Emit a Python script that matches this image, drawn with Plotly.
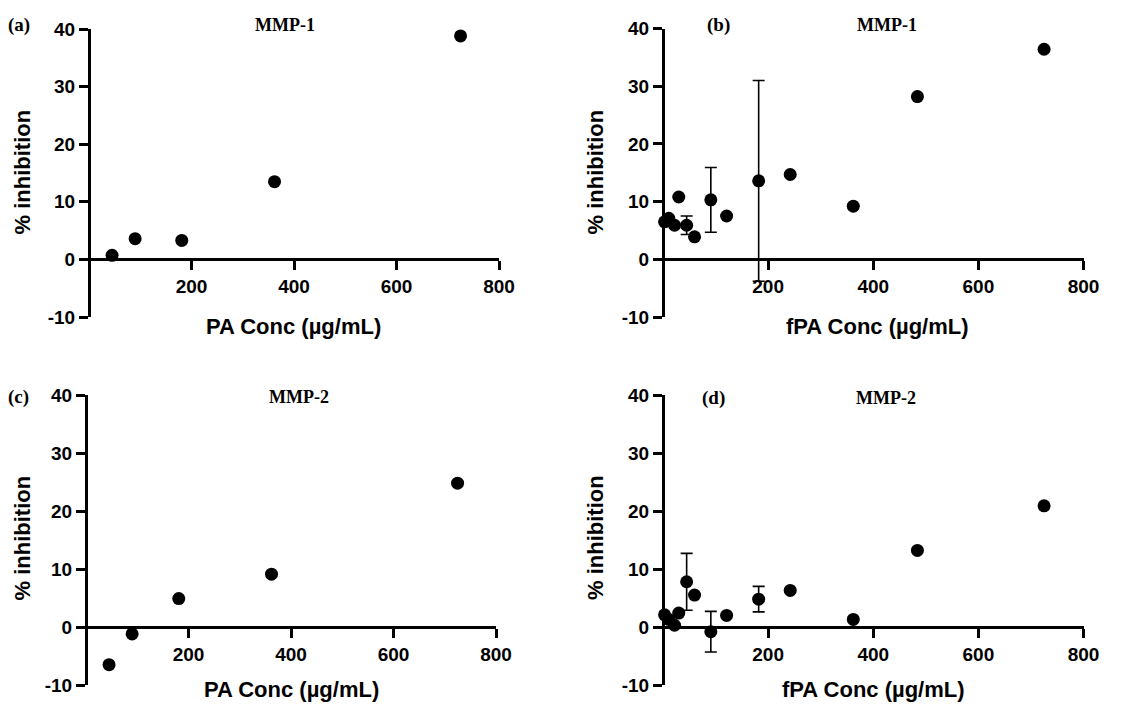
import plotly.graph_objects as go

# The page body has an 8px margin, so the figure is offset by 8px;
# reference pixel coordinates are converted accordingly.
OFF = 8
W, H = 1127 - OFF, 704 - OFF

# ---- data ----
pa_conc = [45, 90, 181, 362, 725]
mmp1_pa = [0.7, 3.6, 3.3, 13.5, 38.8]
mmp2_pa = [-6.5, -1.2, 4.9, 9.1, 24.8]

fpa_conc = [3, 11, 22, 30, 45, 60, 91, 121, 182, 242, 362, 484, 725]
mmp1_fpa = [6.5, 7.1, 5.9, 10.8, 5.9, 3.9, 10.3, 7.5, 13.6, 14.7, 9.2, 28.2, 36.4]
mmp1_fpa_err = [None, None, None, None, 1.6, None, 5.6, None, 17.4, None, None, None, None]
mmp2_fpa = [2.1, 1.3, 0.3, 2.4, 7.8, 5.5, -0.8, 2.0, 4.8, 6.3, 1.3, 13.2, 20.9]
mmp2_fpa_err = [None, None, None, None, 4.9, None, 3.5, None, 2.2, None, None, None, None]

x_ticks = [200, 400, 600, 800]
y_ticks = [-10, 0, 10, 20, 30, 40]

SANS = "Arial, Liberation Sans, sans-serif"
SERIF = "Times New Roman, Liberation Serif, serif"

def px(x):
    return (x - OFF) / W

def py(y):
    return 1 - (y - OFF) / H

panels = [
    # (x-left px, x-right px), (y-top px, y-bottom px) in reference pixels
    dict(xd=(89, 499), yd=(29, 317)),
    dict(xd=(663, 1083.5), yd=(28.5, 317)),
    dict(xd=(86, 496), yd=(395, 685)),
    dict(xd=(663, 1083.5), yd=(395, 685)),
]

fig = go.Figure()

series = [
    (pa_conc, mmp1_pa, None),
    (fpa_conc, mmp1_fpa, mmp1_fpa_err),
    (pa_conc, mmp2_pa, None),
    (fpa_conc, mmp2_fpa, mmp2_fpa_err),
]

for i, (xs, ys, err) in enumerate(series):
    n = "" if i == 0 else str(i + 1)
    tr = dict(
        x=xs, y=ys, mode="markers",
        marker=dict(color="black", size=13, symbol="circle", line=dict(width=0)),
        xaxis="x" + n, yaxis="y" + n, showlegend=False, cliponaxis=False,
    )
    if err is not None:
        tr["error_y"] = dict(type="data", array=err, visible=True,
                             color="black", thickness=1.6, width=6)
    fig.add_trace(go.Scatter(**tr))

layout = dict(
    width=W, height=H,
    margin=dict(l=0, r=0, t=0, b=0, pad=0, autoexpand=False),
    paper_bgcolor="white", plot_bgcolor="white",
    showlegend=False,
)

for i, p in enumerate(panels):
    n = "" if i == 0 else str(i + 1)
    xd = [px(p["xd"][0]), px(p["xd"][1])]
    yd = [py(p["yd"][1]), py(p["yd"][0])]
    zero_pos = yd[0] + (0 - (-10)) / 50 * (yd[1] - yd[0])
    layout["xaxis" + n] = dict(
        domain=xd, range=[0, 800], anchor="free", position=zero_pos,
        showline=True, linecolor="black", linewidth=3,
        ticks="outside", ticklen=9, tickwidth=3, tickcolor="black",
        tickvals=x_ticks, ticktext=[str(v) for v in x_ticks],
        tickfont=dict(family=SANS, size=19, color="black", weight="bold"),
        showgrid=False, zeroline=False, automargin=False,
    )
    layout["yaxis" + n] = dict(
        domain=yd, range=[-10, 40], anchor="free", position=xd[0],
        showline=True, linecolor="black", linewidth=3,
        ticks="outside", ticklen=9, tickwidth=3, tickcolor="black",
        tickvals=y_ticks, ticktext=[str(v) for v in y_ticks],
        tickfont=dict(family=SANS, size=19, color="black", weight="bold"),
        showgrid=False, zeroline=False, automargin=False,
    )

fig.update_layout(**layout)

# ---- text annotations (reference pixel positions) ----
texts = [
    # panel labels and titles (serif bold)
    ("(a)", 18.5, 25, SERIF, 19, 0),
    ("MMP-1", 284.5, 25, SERIF, 18, 0),
    ("(b)", 718.5, 25, SERIF, 19, 0),
    ("MMP-1", 887, 25, SERIF, 18, 0),
    ("(c)", 18, 397, SERIF, 19, 0),
    ("MMP-2", 299, 397, SERIF, 18, 0),
    ("(d)", 713.5, 398, SERIF, 19, 0),
    ("MMP-2", 886, 398, SERIF, 18, 0),
    # axis titles (sans bold)
    ("% inhibition", 21.5, 172, SANS, 22, -90),
    ("PA Conc (µg/mL)", 293.5, 327, SANS, 22, 0),
    ("% inhibition", 595, 172.5, SANS, 22, -90),
    ("fPA Conc (µg/mL)", 877.5, 327, SANS, 22, 0),
    ("% inhibition", 21.5, 538, SANS, 22, -90),
    ("PA Conc (µg/mL)", 291.5, 689.5, SANS, 22, 0),
    ("% inhibition", 595, 538, SANS, 22, -90),
    ("fPA Conc (µg/mL)", 873.5, 689.5, SANS, 22, 0),
]
for t, x, y, fam, size, ang in texts:
    fig.add_annotation(
        text=t, x=px(x), y=py(y), xref="paper", yref="paper",
        xanchor="center", yanchor="middle", showarrow=False, textangle=ang,
        font=dict(family=fam, size=size, color="black", weight="bold"),
    )

fig.write_html("out.html")
